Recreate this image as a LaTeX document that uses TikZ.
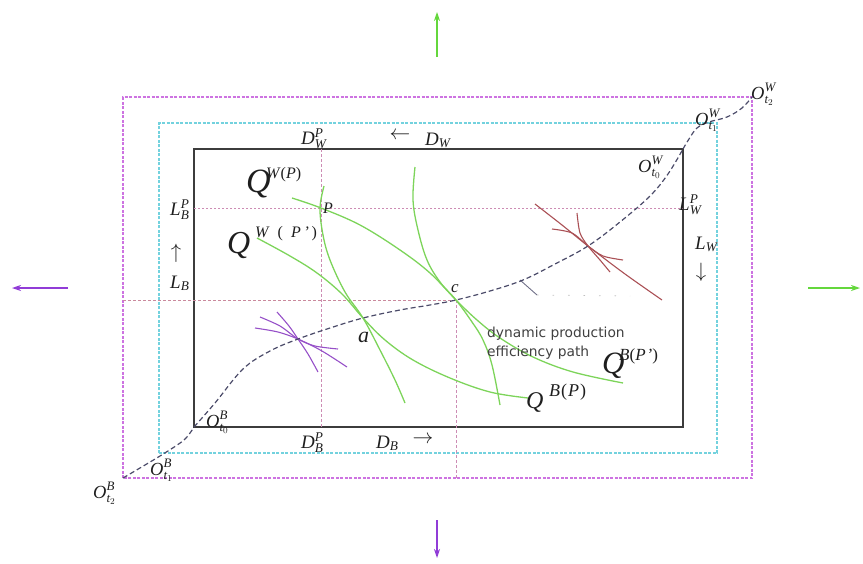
\documentclass[tikz,border=0pt]{standalone}
\usepackage{amsmath}
\usepackage{fontspec}
\setmainfont{Liberation Serif}
\newfontfamily\labelsans{DejaVu Sans}
\usetikzlibrary{arrows.meta}
\definecolor{cGreen}{RGB}{125,212,90}
\definecolor{cArrG}{RGB}{100,215,60}
\definecolor{cArrP}{RGB}{145,60,215}
\definecolor{cMag}{RGB}{205,115,225}
\definecolor{cCyan}{RGB}{115,210,222}
\definecolor{cGuide}{RGB}{205,140,180}
\definecolor{cRed}{RGB}{170,80,85}
\definecolor{cPur}{RGB}{150,80,200}
\definecolor{cPath}{RGB}{75,75,105}
\definecolor{cBox}{RGB}{60,60,60}
\definecolor{cTxt}{RGB}{30,30,30}
\newcommand{\ti}[1]{\textit{#1}}
\begin{document}
\begin{tikzpicture}[x=1pt,y=-1pt,
  outerbox/.style={cMag, line width=1.2pt, dash pattern=on 3pt off 1.5pt},
  midbox/.style={cCyan, line width=1.2pt, dash pattern=on 3pt off 1.5pt},
  innerbox/.style={cBox, line width=1.5pt},
  guide/.style={cGuide, line width=0.9pt, dash pattern=on 3pt off 2pt},
  isoq/.style={cGreen, line width=1.3pt},
  tanR/.style={cRed, line width=1.1pt},
  tanP/.style={cPur, line width=1.1pt},
  effpath/.style={cPath, line width=1.2pt, dash pattern=on 5pt off 3pt},
  bigarrow/.style={line width=1.3pt, -{Stealth[length=9pt,width=6pt]}},
  lab/.style={inner sep=0pt, text=cTxt, font=\fontsize{19}{22}\selectfont, anchor=base west},
  olab/.style={lab, font=\fontsize{18.5}{21}\selectfont},
  arlab/.style={lab, anchor=center, font=\fontsize{20}{22}\selectfont},
]
\useasboundingbox (0,0) rectangle (863,563);

% origins / box corners
\coordinate (OB2) at (123,478);
\coordinate (OW2) at (752,97);
\coordinate (OB1) at (159,453);
\coordinate (OW1) at (717,123);
\coordinate (OB0) at (194,427);
\coordinate (OW0) at (683,149);

\draw[outerbox] (OB2) rectangle (OW2);
\draw[midbox] (OB1) rectangle (OW1);
\draw[innerbox] (OB0) rectangle (OW0);

% guide lines
\coordinate (P) at (321,208);
\coordinate (c) at (456,300);
\coordinate (DWP) at (321,149);
\coordinate (DBP) at (321,427);
\coordinate (LBP) at (194,208);
\coordinate (LWP) at (683,208);
\coordinate (cl) at (123,300);
\coordinate (cb) at (456,478);
\draw[guide] (DWP) -- (DBP);
\draw[guide, dash pattern=on 2pt off 2pt] (LBP) -- (LWP);
\draw[guide, cGuide!80!brown] (cl) -- (c);
\draw[guide] (c) -- (cb);

% faint tick
\coordinate (t1) at (520,280);
\coordinate (t2) at (537,295);
\coordinate (t3) at (630,296);
\draw[cPath!80, line width=0.9pt] (t1) -- (t2);
\draw[black!25, line width=0.8pt, dash pattern=on 1.5pt off 14pt] (t2) -- (t3);

% green iso-quants
\draw[isoq] plot[smooth, tension=0.6] coordinates {(292,198) (321,208) (360,225) (400,250) (430,273) (456,300) (477,320) (500,338) (533,357) (573,372) (623,383)};
\draw[isoq] plot[smooth, tension=0.6] coordinates {(257,238) (290,256) (317,273) (342,294) (363,318) (385,340) (413,360) (450,378) (490,392) (528,398)};
\draw[isoq] plot[smooth, tension=0.6] coordinates {(324,186) (320,208) (323,235) (330,260) (345,292) (363,318) (380,350) (395,380) (405,403)};
\draw[isoq] plot[smooth, tension=0.6] coordinates {(415,167) (413,200) (418,230) (427,260) (440,282) (456,300) (472,322) (483,340) (492,365) (500,405)};

% purple tangency
\coordinate (T1) at (298,339);
\draw[tanP] plot[smooth] coordinates {(260,317) (280,326) (T1) (315,346) (338,349)};
\draw[tanP] plot[smooth] coordinates {(255,328) (278,332) (T1) (322,351) (347,367)};
\draw[tanP] plot[smooth] coordinates {(277,312) (289,326) (T1) (308,354) (318,372)};

% red tangency
\coordinate (T2) at (588,246);
\draw[tanR] plot[smooth] coordinates {(535,204) (562,225) (T2) (625,274) (662,300)};
\draw[tanR] plot[smooth] coordinates {(552,229) (572,233) (T2) (603,256) (623,260)};
\draw[tanR] plot[smooth] coordinates {(577,213) (580,233) (T2) (600,260) (610,272)};

% dynamic production efficiency path
\draw[effpath] plot[smooth, tension=0.5] coordinates {(OB2) (160,456) (184,440) (OB0)};
\draw[effpath] plot[smooth, tension=0.6] coordinates {(OB0) (215,403) (243,369) (270,351) (T1) (330,328) (363,318) (400,310) (430,305) (c) (490,291) (523,280) (555,264) (T2) (620,222) (650,196) (668,174) (OW0)};
\draw[effpath] plot[smooth, tension=0.6] coordinates {(OW0) (689,139) (697,128) (709,122) (727,117) (742,108) (OW2)};

% direction arrows
\coordinate (au0) at (437,57);  \coordinate (au1) at (437,12);
\coordinate (ad0) at (437,520); \coordinate (ad1) at (437,558);
\coordinate (al0) at (68,288);  \coordinate (al1) at (12,288);
\coordinate (ar0) at (808,288); \coordinate (ar1) at (860,288);
\draw[bigarrow, cArrG] (au0) -- (au1);
\draw[bigarrow, cArrP] (ad0) -- (ad1);
\draw[bigarrow, cArrP] (al0) -- (al1);
\draw[bigarrow, cArrG] (ar0) -- (ar1);

% origin labels
\node[olab] (lOW2) at (751,99) {$\ti{O}^{\ti{W}}_{\ti{t}_2}$};
\node[olab] (lOW1) at (695,125) {$\ti{O}^{\ti{W}}_{\ti{t}_1}$};
\node[olab] (lOW0) at (638,172) {$\ti{O}^{\ti{W}}_{\ti{t}_0}$};
\node[olab] (lOB0) at (206,427) {$\ti{O}^{\ti{B}}_{\ti{t}_0}$};
\node[olab] (lOB1) at (150,475) {$\ti{O}^{\ti{B}}_{\ti{t}_1}$};
\node[olab] (lOB2) at (93,498) {$\ti{O}^{\ti{B}}_{\ti{t}_2}$};

% axis labels
\node[lab] (lDWP) at (301,144) {$\ti{D}^{\ti{P}}_{\ti{W}}$};
\node[arlab] (arW) at (400,136) {$\leftarrow$};
\node[lab] (lDW) at (425,145) {$\ti{D}_{\ti{W}}$};
\node[lab] (lDBP) at (301,448) {$\ti{D}^{\ti{P}}_{\ti{B}}$};
\node[lab] (lDB) at (376,448) {$\ti{D}_{\ti{B}}$};
\node[arlab] (arB) at (423,440) {$\rightarrow$};
\node[lab] (lLBP) at (170,215) {$\ti{L}^{\ti{P}}_{\ti{B}}$};
\node[arlab] (arLB) at (176,253) {$\uparrow$};
\node[lab] (lLB) at (170,288) {$\ti{L}_{\ti{B}}$};
\node[lab] (lLWP) at (679,210) {$\ti{L}^{\ti{P}}_{\ti{W}}$};
\node[lab] (lLW) at (695,249) {$\ti{L}_{\ti{W}}$};
\node[arlab] (arLW) at (701,272) {$\downarrow$};

% point labels
\node[lab, font=\fontsize{16}{19}\selectfont] (lP) at (323,213) {\ti{P}};
\node[lab, font=\fontsize{22}{24}\selectfont] (la) at (358,342) {\ti{a}};
\node[lab, font=\fontsize{17}{19}\selectfont] (lc) at (451,292) {\ti{c}};

% iso-quant labels
\node[lab, font=\fontsize{34}{36}\selectfont] (QWP) at (246,192) {\ti{Q}};
\node[lab, font=\fontsize{16}{18}\selectfont] (QWPs) at (266,178) {\ti{W}(\ti{P})};
\node[lab, font=\fontsize{32}{34}\selectfont] (QWP2) at (227,253) {\ti{Q}};
\node[lab, font=\fontsize{16}{18}\selectfont] (QWP2s) at (255,237) {\ti{W}\enspace(\enspace\ti{P}\,\ti{'}\,)};
\node[lab, font=\fontsize{31}{33}\selectfont] (QBP2) at (602,373) {\ti{Q}};
\node[lab, font=\fontsize{17}{19}\selectfont] (QBP2s) at (619,360) {\ti{B}(\ti{P}\kern1pt\ti{'})};
\node[lab, font=\fontsize{24}{26}\selectfont] (QBP) at (526,408) {\ti{Q}};
\node[lab, font=\fontsize{18}{20}\selectfont] (QBPs) at (549,396) {\ti{B}\kern1pt(\kern1pt\ti{P}\kern1pt)};

% path caption
\node[inner sep=0pt, anchor=north west, align=left, text=cTxt!85, font=\labelsans\fontsize{13.8}{19}\selectfont] (cap) at (487,326.5) {dynamic production\\efficiency path};
\end{tikzpicture}
\end{document}
